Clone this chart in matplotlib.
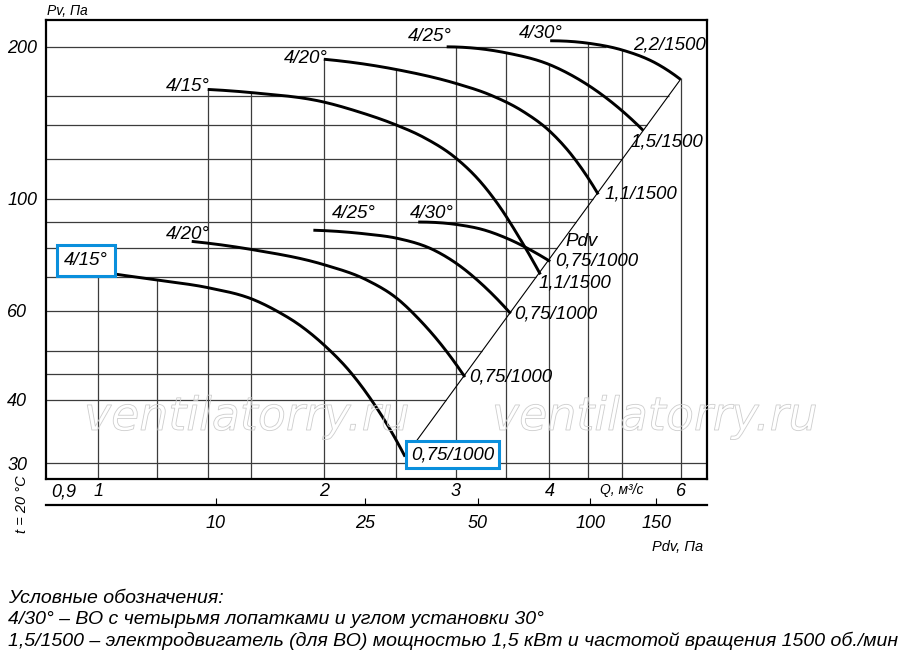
import numpy as np
import matplotlib.pyplot as plt
from matplotlib import patheffects
from matplotlib.ticker import NullLocator

plt.rcParams['font.family'] = ['Liberation Sans', 'DejaVu Sans']
plt.rcParams['font.style'] = 'italic'

# 0,75 kW / 1000 rpm curves (Q, m3/s ; Pv, Pa)
q_l15 = [1.0, 1.059, 1.198, 1.403, 1.611, 1.731, 1.859, 2.001, 2.168, 2.328, 2.476, 2.567]
p_l15 = [71.8, 70.9, 69.1, 66.7, 63.2, 60.0, 56.2, 51.4, 45.5, 39.5, 34.1, 30.9]
q_l20 = [1.333, 1.611, 2.001, 2.282, 2.502, 2.688, 2.886, 3.085]
p_l20 = [82.4, 79.3, 74.1, 69.1, 63.6, 57.5, 50.9, 44.4]
q_l25 = [1.937, 2.282, 2.502, 2.800, 3.022, 3.264, 3.550]
p_l25 = [86.7, 85.2, 83.6, 79.3, 74.1, 67.4, 59.3]
q_l30 = [2.673, 3.022, 3.264, 3.507, 3.806, 4.009]
p_l30 = [90.0, 88.9, 86.9, 83.6, 78.7, 75.2]

# 1500 rpm curves
q_u15 = [1.4, 1.611, 2.0, 2.214, 2.5, 2.715, 3.01, 3.231, 3.415, 3.652, 3.89]
p_u15 = [164.7, 162.2, 155.5, 149.1, 140.0, 132.5, 120.0, 108.4, 97.6, 83.5, 70.9]
q_u20 = [2.0, 2.502, 3.008, 3.332, 3.691, 4.009, 4.302, 4.647]
p_u20 = [189.0, 180.3, 169.1, 160.7, 148.9, 135.9, 121.1, 102.1]
q_u25 = [2.917, 3.507, 4.009, 4.302, 4.718, 5.336]
p_u25 = [200.0, 194.5, 184.2, 175.0, 160.1, 136.6]
q_u30 = [4.009, 4.529, 5.008, 5.558, 5.983]
p_u30 = [205.6, 203.1, 197.0, 185.3, 172.4]

start_labels = ['4/15°', '4/20°', '4/25°', '4/30°', '4/15°', '4/20°', '4/25°', '4/30°']
end_labels = ['0,75/1000', '0,75/1000', '0,75/1000', '0,75/1000',
              '1,1/1500', '1,1/1500', '1,5/1500', '2,2/1500']

x_ticks = [0.9, 1, 2, 3, 4, 5, 6]
x_tick_labels = ['0,9', '1', '2', '3', '4', 'Q, м³/с', '6']
y_ticks = [30, 40, 60, 100, 200]
y_tick_labels = ['30', '40', '60', '100', '200']
grid_q = [1, 1.2, 1.4, 1.6, 2, 2.5, 3, 3.5, 4, 4.5, 5, 6]
grid_p = [30, 40, 45, 50, 60, 70, 80, 90, 100, 120, 140, 160, 200]
pdv_ticks = [10, 25, 50, 100, 150]
pdv_tick_labels = ['10', '25', '50', '100', '150']
PDV_K = 4.86   # Pdv = K * Q^2

curves = [(q_l15, p_l15), (q_l20, p_l20), (q_l25, p_l25), (q_l30, p_l30),
          (q_u15, p_u15), (q_u20, p_u20), (q_u25, p_u25), (q_u30, p_u30)]

XLIM = (0.852, 6.49)
YLIM = (27.9, 226)
BLUE = '#0a8fdc'
GRID = '#3c3c3c'


def end_slope(h0, h1, m0, m1):
    d = ((2*h0 + h1)*m0 - h0*m1) / (h0 + h1)
    if np.sign(d) != np.sign(m0):
        return 0.0
    return d


def smooth(cq, cp, q):
    # cubic Hermite (Bessel tangents) through the read points, in log-log
    x = np.log10(cq)
    y = np.log10(cp)
    h = np.diff(x)
    d = np.diff(y) / h
    m = np.empty_like(x)
    for k in range(1, len(x) - 1):
        m[k] = (h[k]*d[k-1] + h[k-1]*d[k]) / (h[k-1] + h[k])
    m[0] = end_slope(h[0], h[1], d[0], d[1])
    m[-1] = end_slope(h[-1], h[-2], d[-1], d[-2])
    xq = np.log10(np.atleast_1d(q))
    k = np.clip(np.searchsorted(x, xq) - 1, 0, len(x) - 2)
    t = (xq - x[k]) / h[k]
    h00 = 2*t**3 - 3*t**2 + 1
    h10 = t**3 - 2*t**2 + t
    h01 = -2*t**3 + 3*t**2
    h11 = t**3 - t**2
    yq = h00*y[k] + h10*h[k]*m[k] + h01*y[k+1] + h11*h[k]*m[k+1]
    return 10**yq


fig = plt.figure(figsize=(9, 6.7), dpi=100)
ax = fig.add_axes([46/900, 1-479/670, 661/900, 459/670])
ax.set_xscale('log')
ax.set_yscale('log')
ax.set_xlim(*XLIM)
ax.set_ylim(*YLIM)

# Pdv line through the lowest and the highest curve ends
lq = np.log10([q_l15[-1], q_u30[-1]])
lp = np.log10([p_l15[-1], p_u30[-1]])
slope = (lp[1] - lp[0]) / (lq[1] - lq[0])


def env_top(q):
    vals = [smooth(cq, cp, q)[0]
            for cq, cp in curves if cq[0] - 1e-9 <= q <= cq[-1] + 1e-9]
    if vals:
        return max(vals)
    return 10**(lp[0] + slope*(np.log10(q) - lq[0]))


def right_edge(p):
    if p < 10**lp[0]:
        return XLIM[1]
    if p <= 10**lp[1]:
        return 10**(lq[0] + (np.log10(p) - lp[0]) / slope)
    return 10**np.interp(np.log10(p), np.log10(p_u30[::-1]), np.log10(q_u30[::-1]))


for q in grid_q:
    ax.vlines(q, YLIM[0], env_top(q), color=GRID, lw=0.9, zorder=1)
for p in grid_p:
    ax.hlines(p, XLIM[0], right_edge(p), color=GRID, lw=0.9, zorder=1)

ax.plot(10**lq, 10**lp, color='black', lw=0.8, zorder=2)

for cq, cp in curves:
    qq = np.geomspace(cq[0], cq[-1], 150)
    ax.plot(qq, smooth(cq, cp, qq), color='black', lw=2.1,
            solid_capstyle='butt', zorder=3)

fs = 13.5
# labels at curve starts: (dx, dy) points, ha
start_off = [(-8.6, 8, 'center'), (13, 1.5, 'right'), (13, 9, 'left'), (-6, 3, 'left'),
             (1.5, -1, 'right'), (3, -3, 'right'), (4, 4, 'right'), (9, 2, 'right')]
for i, (cq, cp) in enumerate(curves):
    dx, dy, ha = start_off[i]
    kw = {}
    va = 'baseline'
    if i == 0:
        va = 'center'
        kw['bbox'] = dict(boxstyle='square,pad=0.38', fc='white', ec=BLUE, lw=2.2)
    ax.annotate(start_labels[i], (cq[0], cp[0]), xytext=(dx, dy),
                textcoords='offset points', ha=ha, va=va, fontsize=fs,
                zorder=5, **kw)

end_off = [(4.3, 1.5), (3, 0), (2.4, 0), (3.6, 0),
           (-1.4, -6.5), (4.3, 0), (-9.4, -8), (-34, 24.5)]
for i, (cq, cp) in enumerate(curves):
    dx, dy = end_off[i]
    kw = {}
    if i == 0:
        kw['bbox'] = dict(boxstyle='square,pad=0.25', fc='white', ec=BLUE, lw=2.2)
    ax.annotate(end_labels[i], (cq[-1], cp[-1]), xytext=(dx, dy),
                textcoords='offset points', ha='left', va='center', fontsize=fs,
                zorder=5, **kw)

ax.annotate('Pdv', (q_l30[-1], p_l30[-1]), xytext=(11, 14),
            textcoords='offset points', ha='left', va='center', fontsize=fs, zorder=5)

# axes and ticks
ax.set_xticks(x_ticks, labels=x_tick_labels)
ax.set_yticks(y_ticks, labels=y_tick_labels)
ax.xaxis.set_minor_locator(NullLocator())
ax.yaxis.set_minor_locator(NullLocator())
ax.tick_params(which='both', length=0, labelsize=13)
ax.tick_params(axis='x', pad=3)
ax.tick_params(axis='y', pad=28)
for lbl in ax.get_yticklabels():
    lbl.set_horizontalalignment('left')
ax.get_xticklabels()[5].set_fontsize(10)
for s in ax.spines.values():
    s.set_linewidth(1.6)
    s.set_zorder(6)

sec = ax.secondary_xaxis(-0.0566, functions=(lambda q: PDV_K*np.asarray(q)**2,
                                              lambda p: np.sqrt(np.maximum(p, 0)/PDV_K)))
sec.set_xticks(pdv_ticks, labels=pdv_tick_labels)
sec.xaxis.set_minor_locator(NullLocator())
sec.tick_params(direction='in', length=5, width=0.8, pad=7, labelsize=13)
sec.spines['bottom'].set_linewidth(1.6)

fig.text(47/900, 1-15/670, 'Pv, Па', fontsize=10, va='baseline')
fig.text(22/900, 1-504/670, 't = 20 °C', fontsize=10.5, rotation=90,
         ha='center', va='center')
fig.text(703/900, 1-551/670, 'Pdv, Па', fontsize=10.5, ha='right', va='baseline')

# watermark (outline only)
for x0 in (84, 492):
    fig.text(x0/900, 1-430/670, 'ventilatorry.ru', fontsize=33, family='DejaVu Sans',
             style='italic', color=(1, 1, 1, 0), va='baseline', zorder=10,
             path_effects=[patheffects.Stroke(linewidth=0.6, foreground='#cdcdcd')])

legend_lines = ['Условные обозначения:',
                '4/30° – ВО с четырьмя лопатками и углом установки 30°',
                '1,5/1500 – электродвигатель (для ВО) мощностью 1,5 кВт и частотой вращения 1500 об./мин']
for i, line in enumerate(legend_lines):
    fig.text(8/900, 1-(603 + 21.5*i)/670, line, fontsize=14, va='baseline')

fig.savefig('out.png', dpi=100)
